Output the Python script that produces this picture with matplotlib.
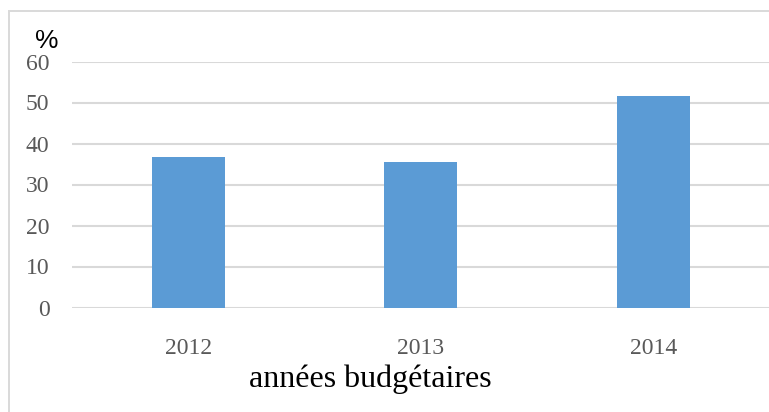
import matplotlib
matplotlib.use("Agg")
import matplotlib.pyplot as plt
from matplotlib.patches import Rectangle

# Budget years and their share (%)
years = ["2012", "2013", "2014"]
shares = [36.6, 35.4, 51.5]
yticks = [0, 10, 20, 30, 40, 50, 60]

W, H = 769, 412
fig = plt.figure(figsize=(W / 100, H / 100), dpi=100)

# chart frame (light border on the top and left)
fig.patches.append(Rectangle((8.5 / W, -0.1), 1.2, (H - 11.5) / H + 0.1,
                             transform=fig.transFigure, fill=False,
                             edgecolor="#d9d9d9", linewidth=1.4))

ax = fig.add_axes([71.7 / W, 104.5 / H, (770 - 71.7) / W, 246 / H])
x = range(len(years))
ax.bar(x, shares, width=0.314, color="#5b9bd5", zorder=3)

ax.set_xlim(-0.5, 2.5)
ax.set_ylim(0, 60)
ax.set_yticks(yticks)
ax.set_xticks(list(x))
ax.set_xticklabels(years)
ax.yaxis.grid(True, color="#d9d9d9", linewidth=1.5, zorder=0)
ax.set_axisbelow(True)
for s in ax.spines.values():
    s.set_visible(False)
ax.tick_params(axis="both", length=0, labelsize=17, labelcolor="#595959")
ax.tick_params(axis="y", pad=16)
ax.tick_params(axis="x", pad=22)
for lab in ax.get_xticklabels() + ax.get_yticklabels():
    lab.set_fontfamily("Liberation Serif")

fig.text(370.7 / W, 25.3 / H, "années budgétaires", ha="center",
         va="baseline", fontsize=23, family="Liberation Serif", color="black")
fig.text(35.5 / W, (H - 48) / H, "%", ha="left", va="baseline",
         fontsize=19, family="Liberation Sans", color="black")

fig.savefig("out.png", dpi=100)
